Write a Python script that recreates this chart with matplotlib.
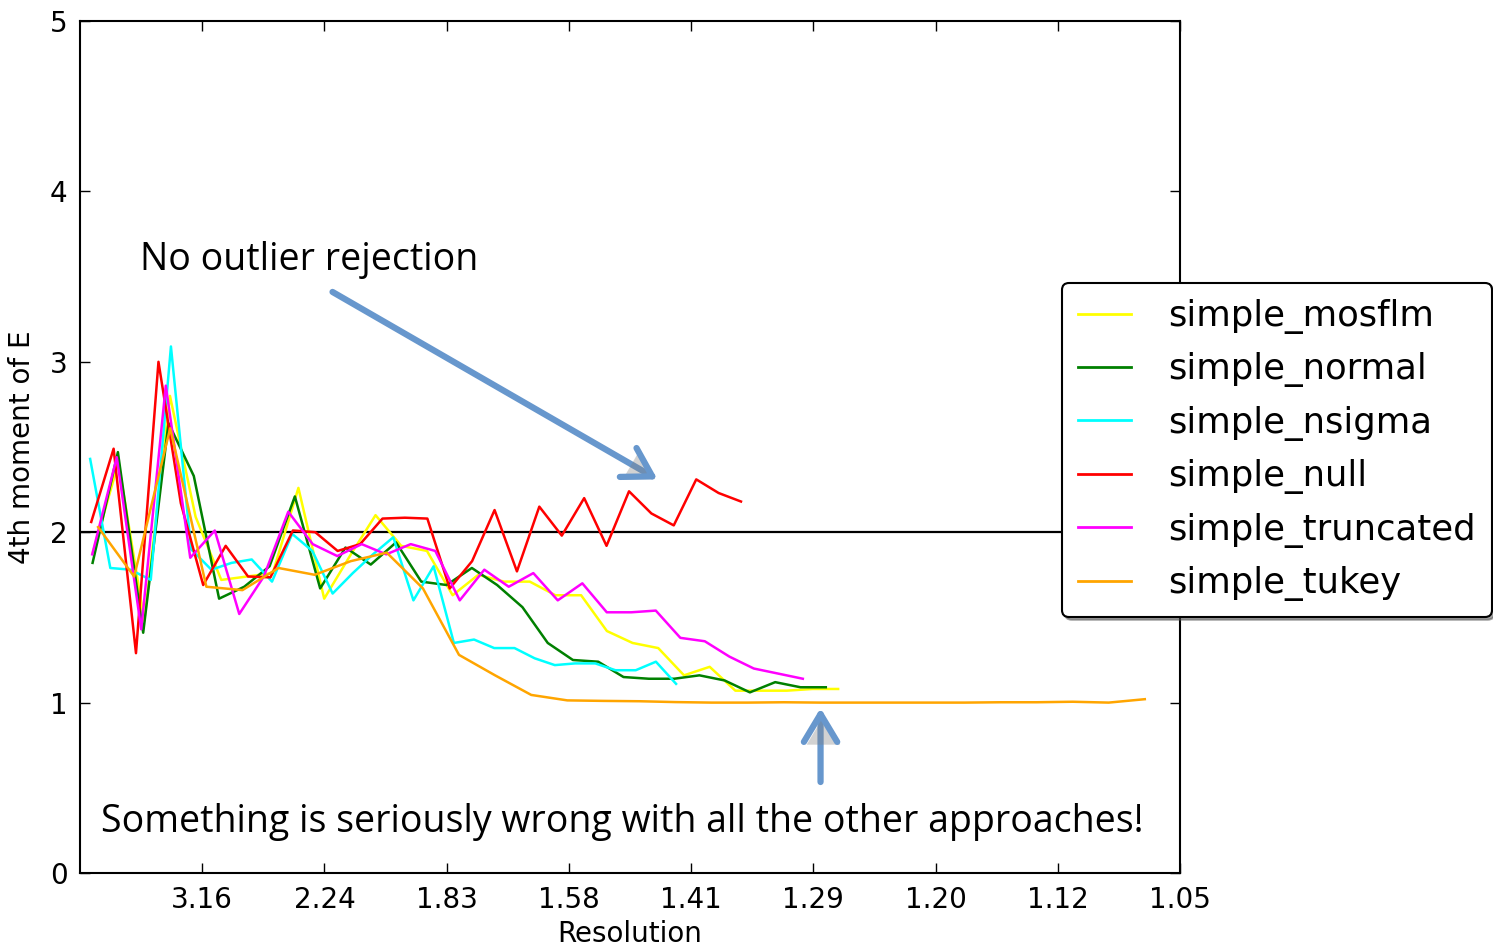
import matplotlib
matplotlib.use("Agg")
import matplotlib.pyplot as plt
import matplotlib.patheffects as pe

# ---- data (x = 1/d^2 bin centres, y = 4th moment of E) ----
series_names = ["simple_mosflm", "simple_normal", "simple_nsigma",
                "simple_null", "simple_truncated", "simple_tukey"]
series_colors = ["yellow", "green", "cyan", "red", "magenta", "orange"]

x_mosflm = [0.0105, 0.0315, 0.0526, 0.0736, 0.0946, 0.1156, 0.1367, 0.1577, 0.1787, 0.1998,
            0.2208, 0.2418, 0.2628, 0.2839, 0.3049, 0.3259, 0.3470, 0.3680, 0.3890, 0.4100,
            0.4311, 0.4521, 0.4731, 0.4942, 0.5152, 0.5362, 0.5572, 0.5783, 0.5993, 0.6203]
y_mosflm = [1.88, 2.41, 1.48, 2.80, 2.09, 1.72, 1.74, 1.76, 2.26, 1.61,
            1.86, 2.10, 1.92, 1.89, 1.63, 1.75, 1.71, 1.71, 1.63, 1.63,
            1.42, 1.35, 1.32, 1.16, 1.21, 1.07, 1.07, 1.07, 1.08, 1.08]

x_normal = [0.0103, 0.0310, 0.0517, 0.0724, 0.0931, 0.1138, 0.1344, 0.1551, 0.1758, 0.1965,
            0.2172, 0.2379, 0.2586, 0.2792, 0.2999, 0.3206, 0.3413, 0.3620, 0.3827, 0.4033,
            0.4240, 0.4447, 0.4654, 0.4861, 0.5068, 0.5274, 0.5481, 0.5688, 0.5895, 0.6102]
y_normal = [1.82, 2.47, 1.41, 2.64, 2.33, 1.61, 1.68, 1.80, 2.21, 1.67,
            1.91, 1.81, 1.94, 1.71, 1.69, 1.79, 1.69, 1.56, 1.35, 1.25,
            1.24, 1.15, 1.14, 1.14, 1.16, 1.13, 1.06, 1.12, 1.09, 1.09]

x_nsigma = [0.0083, 0.0248, 0.0413, 0.0579, 0.0744, 0.0909, 0.1075, 0.1240, 0.1405, 0.1571,
            0.1736, 0.1901, 0.2067, 0.2232, 0.2397, 0.2563, 0.2728, 0.2893, 0.3059, 0.3224,
            0.3389, 0.3555, 0.3720, 0.3885, 0.4051, 0.4216, 0.4381, 0.4547, 0.4712, 0.4877]
y_nsigma = [2.43, 1.79, 1.78, 1.72, 3.09, 1.90, 1.78, 1.82, 1.84, 1.71,
            1.99, 1.89, 1.64, 1.76, 1.87, 1.97, 1.60, 1.80, 1.35, 1.37,
            1.32, 1.32, 1.26, 1.22, 1.23, 1.23, 1.19, 1.19, 1.24, 1.11]

x_null = [0.0092, 0.0275, 0.0458, 0.0642, 0.0825, 0.1008, 0.1192, 0.1375, 0.1558, 0.1742,
          0.1925, 0.2108, 0.2292, 0.2475, 0.2658, 0.2842, 0.3025, 0.3208, 0.3392, 0.3575,
          0.3758, 0.3942, 0.4125, 0.4308, 0.4492, 0.4675, 0.4858, 0.5042, 0.5225, 0.5408]
y_null = [2.06, 2.49, 1.29, 3.00, 2.17, 1.69, 1.92, 1.74, 1.735, 2.01,
          2.00, 1.89, 1.93, 2.08, 2.085, 2.08, 1.67, 1.83, 2.13, 1.77,
          2.15, 1.98, 2.20, 1.92, 2.24, 2.11, 2.04, 2.31, 2.23, 2.18]

x_truncated = [0.0100, 0.0301, 0.0501, 0.0702, 0.0902, 0.1103, 0.1303, 0.1504, 0.1704, 0.1904,
               0.2105, 0.2305, 0.2506, 0.2706, 0.2907, 0.3107, 0.3308, 0.3508, 0.3709, 0.3909,
               0.4110, 0.4310, 0.4511, 0.4711, 0.4912, 0.5112, 0.5313, 0.5513, 0.5714, 0.5914]
y_truncated = [1.87, 2.44, 1.43, 2.86, 1.85, 2.01, 1.52, 1.74, 2.12, 1.93,
               1.86, 1.93, 1.87, 1.93, 1.89, 1.60, 1.78, 1.68, 1.76, 1.60,
               1.70, 1.53, 1.53, 1.54, 1.38, 1.36, 1.27, 1.20, 1.17, 1.14]

x_tukey = [0.0148, 0.0443, 0.0738, 0.1034, 0.1329, 0.1624, 0.1920, 0.2215, 0.2510, 0.2806,
           0.3101, 0.3396, 0.3692, 0.3987, 0.4282, 0.4578, 0.4873, 0.5168, 0.5464, 0.5759,
           0.6054, 0.6350, 0.6645, 0.6940, 0.7236, 0.7531, 0.7826, 0.8122, 0.8417, 0.8712]
y_tukey = [2.03, 1.74, 2.61, 1.68, 1.66, 1.79, 1.75, 1.83, 1.88, 1.67,
           1.28, 1.16, 1.045, 1.013, 1.010, 1.008, 1.003, 1.000, 1.000, 1.002,
           1.000, 1.000, 1.000, 1.000, 1.000, 1.002, 1.002, 1.005, 1.000, 1.020]

xs = [x_mosflm, x_normal, x_nsigma, x_null, x_truncated, x_tukey]
ys = [y_mosflm, y_normal, y_nsigma, y_null, y_truncated, y_tukey]

x_tick_pos = [0.1, 0.2, 0.3, 0.4, 0.5, 0.6, 0.7, 0.8, 0.9]
x_tick_labels = ["3.16", "2.24", "1.83", "1.58", "1.41", "1.29", "1.20", "1.12", "1.05"]
y_tick_pos = [0, 1, 2, 3, 4, 5]
reference_level = 2.0

# ---- figure ----
W, H = 1493, 952
fig = plt.figure(figsize=(W / 100, H / 100), dpi=100)
ax = fig.add_axes([80 / W, 79 / H, 1100 / W, 852 / H])

ax.axhline(reference_level, color="black", lw=1.6, zorder=1)
for x, y, name, c in zip(xs, ys, series_names, series_colors):
    ax.plot(x, y, color=c, lw=1.8, label=name, zorder=2)

ax.set_xlim(0, 0.9)
ax.set_ylim(0, 5)
ax.set_xticks(x_tick_pos)
ax.set_xticklabels(x_tick_labels)
ax.set_yticks(y_tick_pos)
ax.tick_params(direction="in", top=True, right=True, length=7, width=1,
               labelsize=20, pad=9)
for s in ax.spines.values():
    s.set_linewidth(1.5)
ax.set_xlabel("Resolution", fontsize=20, labelpad=5)
ax.set_ylabel("4th moment of E", fontsize=20, labelpad=10)

leg = ax.legend(loc="upper left", bbox_to_anchor=(1062 / W, 1 - 283 / H),
                bbox_transform=fig.transFigure, fontsize=25.5, fancybox=True,
                shadow=True, framealpha=1, borderpad=0.45, labelspacing=0.52,
                handlelength=1.5, handletextpad=1.05, borderaxespad=0)
leg.get_frame().set_edgecolor("black")
leg.get_frame().set_linewidth(1.5)
for h in leg.get_lines():
    h.set_linewidth(2)

arrow_color = "#6797cd"
shadow = [pe.withSimplePatchShadow(offset=(2, -2), shadow_rgbFace="gray", alpha=0.35)]
ax.annotate("", xy=(0.4725, 2.31), xytext=(0.2066, 3.41),
            arrowprops=dict(arrowstyle="->,head_length=0.5,head_width=0.3",
                            color=arrow_color, lw=4.5, mutation_scale=40,
                            shrinkA=0, shrinkB=0, path_effects=shadow))
ax.annotate("", xy=(0.6059, 0.968), xytext=(0.6059, 0.534),
            arrowprops=dict(arrowstyle="->,head_length=0.5,head_width=0.3",
                            color=arrow_color, lw=4.5, mutation_scale=40,
                            shrinkA=0, shrinkB=0, path_effects=shadow))

ax.text(0.0487, 3.60, "No outlier rejection", fontsize=27, family="Open Sans",
        ha="left", va="center")
ax.text(0.444, 0.30, "Something is seriously wrong with all the other approaches!",
        fontsize=27, family="Open Sans", ha="center", va="center")

fig.savefig("out.png", dpi=100)
